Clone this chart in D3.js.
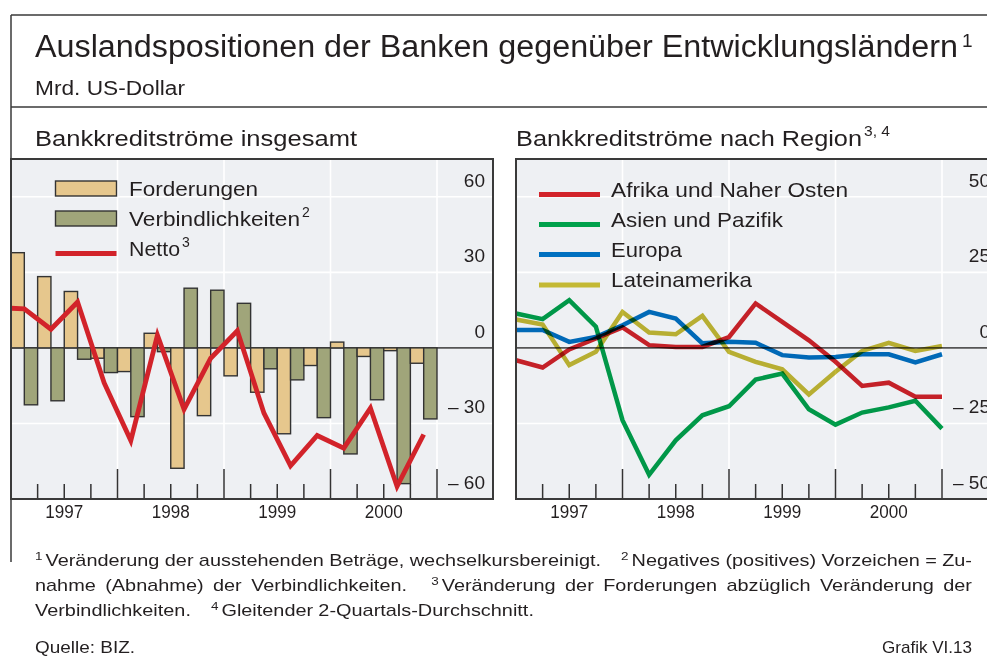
<!DOCTYPE html>
<html>
<head>
<meta charset="utf-8">
<script src="https://cdn.jsdelivr.net/npm/d3@7"></script>
<style>
html,body{margin:0;padding:0;background:#fff;}
svg{display:block;font-family:"Liberation Sans",Arial,Helvetica,sans-serif;}
</style>
</head>
<body>
<svg id="chart" width="987" height="659"></svg>
<script>
// ---------------- DATA ----------------
const quarters = ["1997 Q1","1997 Q2","1997 Q3","1997 Q4","1998 Q1","1998 Q2","1998 Q3","1998 Q4",
                  "1999 Q1","1999 Q2","1999 Q3","1999 Q4","2000 Q1","2000 Q2","2000 Q3","2000 Q4"];
const years = ["1997","1998","1999","2000"];

// Left panel: Bankkreditströme insgesamt (Mrd. US-Dollar)
const forderungen       = [37.8, 28.3, 22.4, -4.1, -9.4, 5.8, -47.8, -26.9, -11.1, -17.6, -34.1, -7.0, 2.3, -3.4, -1.1, -6.1];
const verbindlichkeiten = [-22.6, -21.0, -4.5, -9.8, -27.3, -1.5, 23.7, 22.9, 17.7, -8.3, -12.7, -27.7, -42.1, -20.6, -53.9, -28.2];
const nettoPeriods = ["1996 Q4"].concat(quarters);
const netto = [16.0, 15.5, 7.4, 18.2, -13.9, -36.8, 5.0, -24.4, -4.1, 6.8, -25.9, -46.8, -34.8, -39.8, -23.9, -55.0, -34.4];
const leftTicks = [-60, -30, 0, 30, 60];
const leftTickLabels = ["\u2013 60", "\u2013 30", "0", "30", "60"];

// Right panel: Bankkreditströme nach Region (quarter-end points)
const regionPeriods = ["1996 Q4"].concat(quarters);
const afrika        = [-4.1, -6.5, -0.5, 3.1, 6.8, 0.9, 0.3, 0.3, 3.6, 14.7, 8.6, 2.5, -4.6, -12.6, -11.5, -16.2, -16.2];
const asien         = [11.4, 9.5, 15.8, 7.0, -23.9, -42.0, -30.6, -22.3, -19.3, -10.5, -8.5, -20.3, -25.4, -21.4, -19.7, -17.5, -26.7];
const europa        = [5.9, 5.9, 2.0, 3.6, 7.5, 11.9, 9.7, 1.5, 2.0, 1.7, -2.4, -3.2, -3.0, -2.1, -2.1, -4.8, -2.1];
const lateinamerika = [9.4, 7.7, -5.7, -1.3, 11.9, 5.1, 4.5, 10.6, -1.3, -4.6, -7.1, -15.4, -7.9, -1.0, 1.7, -1.0, 0.6];
const regionNames = ["Afrika und Naher Osten", "Asien und Pazifik", "Europa", "Lateinamerika"];
const rightTicks = [-50, -25, 0, 25, 50];
const rightTickLabels = ["\u2013 50", "\u2013 25", "0", "25", "50"];

// ---------------- STYLE ----------------
const INK = "#231f20";
const FRAME = "#3a3a3a";
const PLOTBG = "#eef0f3";
const TAN = "#e6c78d";
const OLIVE = "#a0a57a";
const RED = "#d2232a";
const regionColors = ["#d2232a", "#00a14b", "#0070c0", "#c4b934"];

const svg = d3.select("#chart");

function txt(g, x, y, s, size, opts) {
  opts = opts || {};
  const t = g.append("text").attr("x", x).attr("y", y).attr("font-size", size)
    .attr("fill", INK).text(s);
  if (opts.anchor) t.attr("text-anchor", opts.anchor);
  if (opts.width) t.attr("textLength", opts.width).attr("lengthAdjust", "spacingAndGlyphs");
  return t;
}

// ---------------- OUTER FRAME & HEADINGS ----------------
svg.append("line").attr("x1", 11).attr("x2", 987).attr("y1", 15).attr("y2", 15)
  .attr("stroke", FRAME).attr("stroke-width", 1.5);
svg.append("line").attr("x1", 11).attr("x2", 11).attr("y1", 15).attr("y2", 562)
  .attr("stroke", FRAME).attr("stroke-width", 1.5);
svg.append("line").attr("x1", 11).attr("x2", 987).attr("y1", 107).attr("y2", 107)
  .attr("stroke", FRAME).attr("stroke-width", 1.5);

txt(svg, 35, 57, "Auslandspositionen der Banken gegenüber Entwicklungsländern", 31, {width: 923});
txt(svg, 962, 47, "1", 19);
txt(svg, 35, 95, "Mrd. US-Dollar", 20, {width: 150});
txt(svg, 35, 146, "Bankkreditströme insgesamt", 22, {width: 322});
txt(svg, 516, 146, "Bankkreditströme nach Region", 22, {width: 346});
txt(svg, 864, 136, "3, 4", 14, {width: 26});

// ---------------- LEFT PANEL ----------------
const L = {x0: 11, x1: 437, xr: 493, y0: 159, y1: 499};
const x = d3.scaleBand().domain(quarters).range([L.x0, L.x1]).padding(0);
const bw = x.bandwidth();
const sub = d3.scaleBand().domain(["Forderungen", "Verbindlichkeiten"]).range([0, bw]).padding(0);
const y = d3.scaleLinear().domain([-60, 75]).range([L.y1, L.y0]);
const xNet = d3.scalePoint().domain(nettoPeriods).range([L.x0 - bw / 2, L.x1 - bw / 2]);

const gl = svg.append("g");
gl.append("rect").attr("x", L.x0).attr("y", L.y0).attr("width", L.xr - L.x0).attr("height", L.y1 - L.y0)
  .attr("fill", PLOTBG);
gl.selectAll(".hg").data(leftTicks.filter(v => v !== 0 && v !== -60)).join("line")
  .attr("x1", L.x0).attr("x2", L.xr).attr("y1", d => y(d)).attr("y2", d => y(d))
  .attr("stroke", "#fff").attr("stroke-width", 1.6);
const leftYearEnds = years.map(yr => x(yr + " Q4") + bw);
gl.selectAll(".vg").data(leftYearEnds).join("line")
  .attr("x1", d => d).attr("x2", d => d).attr("y1", L.y0).attr("y2", L.y1)
  .attr("stroke", "#fff").attr("stroke-width", 1.6);

// legend (left)
const legL = gl.append("g");
legL.append("rect").attr("x", 55.5).attr("y", 181).attr("width", 61).attr("height", 15)
  .attr("fill", TAN).attr("stroke", "#333").attr("stroke-width", 1.4);
legL.append("rect").attr("x", 55.5).attr("y", 211).attr("width", 61).attr("height", 15)
  .attr("fill", OLIVE).attr("stroke", "#333").attr("stroke-width", 1.4);
legL.append("line").attr("x1", 55.5).attr("x2", 116.5).attr("y1", 253.5).attr("y2", 253.5)
  .attr("stroke", RED).attr("stroke-width", 5);
txt(legL, 129, 196, "Forderungen", 21, {width: 129});
txt(legL, 129, 226, "Verbindlichkeiten", 21, {width: 171});
txt(legL, 302, 217, "2", 14);
txt(legL, 129, 256, "Netto", 21, {width: 51});
txt(legL, 182, 247, "3", 14);

gl.append("line").attr("x1", L.x0).attr("x2", L.xr).attr("y1", y(0)).attr("y2", y(0))
  .attr("stroke", "#555").attr("stroke-width", 1.6);

// bars
const barData = quarters.map((q, i) => ({q, Forderungen: forderungen[i], Verbindlichkeiten: verbindlichkeiten[i]}));
const barColors = {Forderungen: TAN, Verbindlichkeiten: OLIVE};
gl.selectAll(".bq").data(barData).join("g")
  .attr("transform", d => `translate(${x(d.q)},0)`)
  .selectAll("rect").data(d => ["Forderungen", "Verbindlichkeiten"].map(k => ({k, v: d[k]}))).join("rect")
  .attr("x", d => sub(d.k)).attr("width", sub.bandwidth())
  .attr("y", d => y(Math.max(0, d.v))).attr("height", d => Math.abs(y(d.v) - y(0)))
  .attr("fill", d => barColors[d.k]).attr("stroke", "#333").attr("stroke-width", 1.4);

// net line
gl.append("clipPath").attr("id", "clipL").append("rect")
  .attr("x", L.x0).attr("y", L.y0).attr("width", L.xr - L.x0).attr("height", L.y1 - L.y0);
gl.append("path").datum(netto).attr("clip-path", "url(#clipL)")
  .attr("d", d3.line().x((d, i) => xNet(nettoPeriods[i])).y(d => y(d)))
  .attr("fill", "none").attr("stroke", RED).attr("stroke-width", 4.8).attr("stroke-linejoin", "miter");

const lTicks = d3.range(1, quarters.length + 1).map(i => ({x: L.x0 + i * bw, major: i % 4 === 0}));
gl.selectAll(".tk").data(lTicks).join("line")
  .attr("x1", d => d.x).attr("x2", d => d.x).attr("y1", L.y1).attr("y2", d => L.y1 - (d.major ? 30 : 15))
  .attr("stroke", "#333").attr("stroke-width", 1.5);
gl.append("rect").attr("x", L.x0).attr("y", L.y0).attr("width", L.xr - L.x0).attr("height", L.y1 - L.y0)
  .attr("fill", "none").attr("stroke", FRAME).attr("stroke-width", 2);
leftTicks.forEach((v, i) => txt(gl, 485, y(v) - 10, leftTickLabels[i], 19, {anchor: "end"}));
years.forEach(yr => {
  const cx = x(yr + " Q1") + 2 * bw;
  txt(gl, cx, 518, yr, 18, {anchor: "middle", width: 38});
});

// ---------------- RIGHT PANEL ----------------
const R = {x0: 516, x1: 942, xr: 997, y0: 159, y1: 499};
const xr = d3.scalePoint().domain(regionPeriods).range([R.x0, R.x1]);
const qw = xr.step();
const yr2 = d3.scaleLinear().domain([-50, 62.5]).range([R.y1, R.y0]);

const gr = svg.append("g");
gr.append("rect").attr("x", R.x0).attr("y", R.y0).attr("width", R.xr - R.x0).attr("height", R.y1 - R.y0)
  .attr("fill", PLOTBG);
gr.selectAll(".hg").data(rightTicks.filter(v => v !== 0 && v !== -50)).join("line")
  .attr("x1", R.x0).attr("x2", R.xr).attr("y1", d => yr2(d)).attr("y2", d => yr2(d))
  .attr("stroke", "#fff").attr("stroke-width", 1.6);
const rightYearEnds = years.map(yy => xr(yy + " Q4"));
gr.selectAll(".vg").data(rightYearEnds).join("line")
  .attr("x1", d => d).attr("x2", d => d).attr("y1", R.y0).attr("y2", R.y1)
  .attr("stroke", "#fff").attr("stroke-width", 1.6);

const legR = gr.append("g");
regionNames.forEach((n, i) => {
  const ly = [194.5, 224.5, 254.5, 285][i];
  legR.append("line").attr("x1", 539).attr("x2", 600).attr("y1", ly).attr("y2", ly)
    .attr("stroke", regionColors[i]).attr("stroke-width", 5);
  txt(legR, 611, [197, 227, 257, 287][i], n, 21, {width: [237, 172, 71, 141][i]});
});

gr.append("line").attr("x1", R.x0).attr("x2", R.xr).attr("y1", yr2(0)).attr("y2", yr2(0))
  .attr("stroke", "#555").attr("stroke-width", 1.6);

const regionSeries = [afrika, asien, europa, lateinamerika];
const lineR = d3.line().x((d, i) => xr(regionPeriods[i])).y(d => yr2(d));
gr.selectAll(".rl").data(regionSeries).join("path")
  .attr("d", d => lineR(d)).attr("fill", "none")
  .attr("stroke", (d, i) => regionColors[i]).attr("stroke-width", 4.5)
  .attr("stroke-linejoin", "miter").style("mix-blend-mode", "multiply");

const rTicks = d3.range(1, regionPeriods.length).map(i => ({x: R.x0 + i * qw, major: i % 4 === 0}));
gr.selectAll(".tk").data(rTicks).join("line")
  .attr("x1", d => d.x).attr("x2", d => d.x).attr("y1", R.y1).attr("y2", d => R.y1 - (d.major ? 30 : 15))
  .attr("stroke", "#333").attr("stroke-width", 1.5);
gr.append("rect").attr("x", R.x0).attr("y", R.y0).attr("width", R.xr - R.x0).attr("height", R.y1 - R.y0)
  .attr("fill", "none").attr("stroke", FRAME).attr("stroke-width", 2);
rightTicks.forEach((v, i) => txt(gr, R.x1 + 48, yr2(v) - 10, rightTickLabels[i], 19, {anchor: "end"}));
years.forEach((yy, i) => {
  const end = xr(yy + " Q4");
  txt(gr, end - 2 * qw, 518, yy, 18, {anchor: "middle", width: 38});
});

// ---------------- FOOTNOTES ----------------
const FN = 17, STRETCH = 1.17;
const footLines = [
  {y: 566, justify: 972, tokens: ["^1", "Veränderung", "der", "ausstehenden", "Beträge,", "wechselkursbereinigt.",
                                   "^2", "Negatives", "(positives)", "Vorzeichen", "=", "Zu-"]},
  {y: 591, justify: 972, tokens: ["nahme", "(Abnahme)", "der", "Verbindlichkeiten.", "^3", "Veränderung", "der",
                                   "Forderungen", "abzüglich", "Veränderung", "der"]},
  {y: 616, justify: null, tokens: ["Verbindlichkeiten.", "^4", "Gleitender", "2-Quartals-Durchschnitt."]}
];
const gf = svg.append("g");
footLines.forEach(line => {
  const items = line.tokens.map((tk, i) => {
    const isSup = tk.startsWith("^");
    const t = gf.append("text").attr("y", isSup ? line.y - 6 : line.y)
      .attr("font-size", isSup ? 11.5 : FN).attr("fill", INK).text(isSup ? tk.slice(1) : tk);
    const w = t.node().getComputedTextLength() * STRETCH;
    t.attr("textLength", w).attr("lengthAdjust", "spacingAndGlyphs");
    let gap = 0, flex = false;
    if (i > 0) {
      const prev = line.tokens[i - 1];
      if (prev.startsWith("^")) { gap = 3; flex = false; }
      else if (isSup) { gap = 20; flex = true; }
      else { gap = 5.2; flex = true; }
    }
    return {t, w, gap, flex};
  });
  const natural = items.reduce((s, it) => s + it.w + it.gap, 0);
  const nFlex = items.filter(it => it.flex).length;
  const extra = line.justify ? (line.justify - 35 - natural) / nFlex : 0;
  let cx = 35;
  items.forEach(it => {
    cx += it.gap + (it.flex ? extra : 0);
    it.t.attr("x", cx);
    cx += it.w;
  });
});
txt(svg, 35, 653, "Quelle: BIZ.", 17, {width: 100});
txt(svg, 972, 653, "Grafik VI.13", 17, {anchor: "end", width: 90});
</script>
</body>
</html>
